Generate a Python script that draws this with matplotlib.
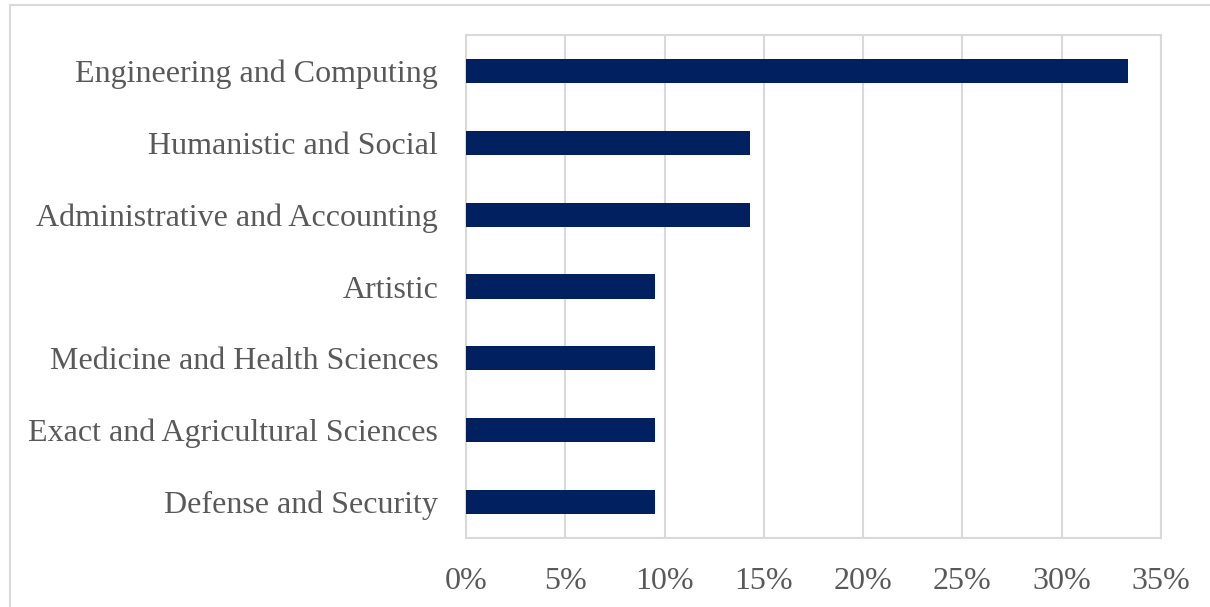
import matplotlib
matplotlib.use("Agg")
import matplotlib.pyplot as plt
from matplotlib.patches import Rectangle
from matplotlib.ticker import FuncFormatter, MultipleLocator

categories = [
    "Engineering and Computing",
    "Humanistic and Social",
    "Administrative and Accounting",
    "Artistic",
    "Medicine and Health Sciences",
    "Exact and Agricultural Sciences",
    "Defense and Security",
]
shares = [33.33, 14.29, 14.29, 9.52, 9.52, 9.52, 9.52]

plt.rcParams["font.family"] = ["Liberation Serif", "DejaVu Serif"]
text_color = "#595959"
grid_color = "#d9d9d9"
bar_color = "#002060"

fig = plt.figure(figsize=(12.10, 6.07), dpi=100)
ax = fig.add_axes([0.3851, 0.1137, 0.9595 - 0.3851, 0.9423 - 0.1137])

y = list(range(len(categories)))
ax.barh(y, shares, height=0.335, color=bar_color, zorder=3)
ax.set_yticks(y)
ax.set_yticklabels(categories)
ax.set_ylim(len(categories) - 0.5, -0.5)
ax.set_xlim(0, 35)
ax.xaxis.set_major_locator(MultipleLocator(5))
ax.xaxis.set_major_formatter(FuncFormatter(lambda v, p: f"{v:.0f}%"))

ax.grid(axis="x", color=grid_color, linewidth=1.5, zorder=0)
ax.tick_params(axis="both", length=0, labelsize=23, colors=text_color)
ax.tick_params(axis="y", pad=20)
ax.tick_params(axis="x", pad=21)
for s in ax.spines.values():
    s.set_color(grid_color)
    s.set_linewidth(1.5)

# outer chart border
fig.patches.append(Rectangle((10, -20), 1230, 622, transform=None,
                             fill=False, edgecolor=grid_color, linewidth=1.5))

fig.savefig("out.png", dpi=100)
